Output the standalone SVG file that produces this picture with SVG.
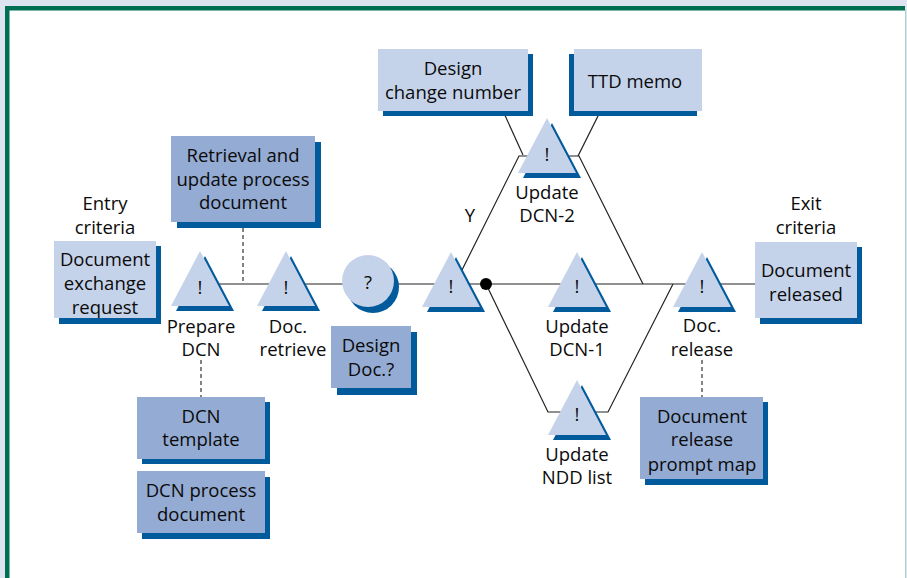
<svg xmlns="http://www.w3.org/2000/svg" xmlns:xlink="http://www.w3.org/1999/xlink" width="907" height="578" viewBox="0 0 907 578">
<style>
.lt{fill:#c5d3ea}
.dk{fill:#94abd3}
.sh{fill:#005a9c}
.ln{stroke:#222;stroke-width:1.2;fill:none}
.ds{stroke:#333;stroke-width:1.2;fill:none;stroke-dasharray:4,3}
text{font-family:"Open Sans","Noto Sans","Liberation Sans",sans-serif;font-size:18.5px;fill:#0a0a0a;text-anchor:middle;dominant-baseline:central}
</style>
<defs>
<path id="tri" d="M0,0 L29,55 L-29,55 Z"/>
</defs>
<rect x="0" y="0" width="907" height="578" fill="#dde3f0"/>
<rect x="7" y="8" width="898" height="570" fill="#ffffff"/>
<rect x="5" y="6" width="900" height="4.5" fill="#006e50"/>
<rect x="5" y="6" width="4.5" height="572" fill="#006e50"/>
<rect x="905" y="10" width="1" height="568" fill="#a8d5c8"/>

<g id="connectors">
<line class="ln" x1="200" y1="284" x2="756" y2="284"/>
<line class="ds" x1="243" y1="228" x2="243" y2="284"/>
<line class="ds" x1="201" y1="360" x2="201" y2="397"/>
<line class="ds" x1="702" y1="360" x2="702" y2="397"/>
<polyline class="ln" points="455,284 519,156 579,156 643,284"/>
<polyline class="ln" points="486,284 548,412 608,412 673,284"/>
<line class="ln" x1="503" y1="111" x2="523" y2="155"/>
<line class="ln" x1="598" y1="116" x2="578" y2="156"/>
<circle cx="486" cy="284" r="6" fill="#000"/>
</g>

<g id="entry-criteria">
<text x="105" y="202">Entry</text>
<text x="105" y="226">criteria</text>
</g>
<g id="doc-exchange-request">
<rect class="sh" x="59" y="246" width="102" height="78"/>
<rect class="lt" x="54" y="241" width="102" height="77"/>
<text x="105" y="258">Document</text>
<text x="105" y="282">exchange</text>
<text x="105" y="306">request</text>
</g>
<g id="retrieval-doc">
<rect class="sh" x="177" y="142" width="144" height="86"/>
<rect class="dk" x="171" y="136" width="144" height="86"/>
<text x="243" y="154">Retrieval and</text>
<text x="243" y="178">update process</text>
<text x="243" y="201">document</text>
</g>
<g id="prepare-dcn">
<use xlink:href="#tri" class="sh" x="205" y="256"/>
<use xlink:href="#tri" class="lt" x="200" y="251"/>
<text x="200" y="286">!</text>
<text x="201" y="325">Prepare</text>
<text x="201" y="348">DCN</text>
</g>
<g id="doc-retrieve">
<use xlink:href="#tri" class="sh" x="291" y="256"/>
<use xlink:href="#tri" class="lt" x="286" y="251"/>
<text x="286" y="286">!</text>
<text x="288" y="325">Doc.</text>
<text x="293" y="348">retrieve</text>
</g>
<g id="dcn-template">
<rect class="sh" x="142" y="402" width="128" height="62"/>
<rect class="dk" x="137" y="397" width="128" height="62"/>
<text x="201" y="415">DCN</text>
<text x="201" y="438">template</text>
</g>
<g id="dcn-process-doc">
<rect class="sh" x="142" y="477" width="128" height="62"/>
<rect class="dk" x="137" y="471" width="128" height="62"/>
<text x="201" y="489">DCN process</text>
<text x="201" y="513">document</text>
</g>
<g id="design-doc-decision">
<circle class="sh" cx="373" cy="287" r="26"/>
<circle class="lt" cx="368" cy="281" r="26"/>
<text x="368" y="281">?</text>
</g>
<g id="design-doc-box">
<rect class="sh" x="337" y="332" width="80" height="63"/>
<rect class="dk" x="331" y="326" width="80" height="62"/>
<text x="371" y="344">Design</text>
<text x="371" y="368">Doc.?</text>
</g>
<g id="junction">
<use xlink:href="#tri" class="sh" x="456" y="257"/>
<use xlink:href="#tri" class="lt" x="451" y="252"/>
<text x="451" y="285">!</text>
</g>
<g id="y-label">
<text x="470" y="214">Y</text>
</g>
<g id="design-change-number">
<rect class="sh" x="383" y="54" width="150" height="62"/>
<rect class="lt" x="378" y="49" width="150" height="62"/>
<text x="453" y="67">Design</text>
<text x="453" y="91">change number</text>
</g>
<g id="ttd-memo">
<rect class="sh" x="569" y="54" width="128" height="62"/>
<rect class="lt" x="574" y="49" width="128" height="62"/>
<text x="635" y="80">TTD memo</text>
</g>
<g id="update-dcn-2">
<use xlink:href="#tri" class="sh" x="552" y="123"/>
<use xlink:href="#tri" class="lt" x="547" y="118"/>
<text x="547" y="153">!</text>
<text x="547" y="191">Update</text>
<text x="547" y="214">DCN-2</text>
</g>
<g id="update-dcn-1">
<use xlink:href="#tri" class="sh" x="582" y="257"/>
<use xlink:href="#tri" class="lt" x="577" y="252"/>
<text x="577" y="285">!</text>
<text x="577" y="325">Update</text>
<text x="577" y="348">DCN-1</text>
</g>
<g id="update-ndd-list">
<use xlink:href="#tri" class="sh" x="582" y="385"/>
<use xlink:href="#tri" class="lt" x="577" y="380"/>
<text x="577" y="413">!</text>
<text x="577" y="453">Update</text>
<text x="577" y="476">NDD list</text>
</g>
<g id="doc-release">
<use xlink:href="#tri" class="sh" x="707" y="257"/>
<use xlink:href="#tri" class="lt" x="702" y="252"/>
<text x="702" y="285">!</text>
<text x="702" y="324">Doc.</text>
<text x="702" y="348">release</text>
</g>
<g id="doc-release-prompt-map">
<rect class="sh" x="645" y="402" width="123" height="83"/>
<rect class="dk" x="640" y="397" width="123" height="82"/>
<text x="702" y="415">Document</text>
<text x="702" y="438">release</text>
<text x="702" y="463">prompt map</text>
</g>
<g id="exit-criteria">
<text x="806" y="202">Exit</text>
<text x="806" y="226">criteria</text>
</g>
<g id="document-released">
<rect class="sh" x="760" y="247" width="102" height="77"/>
<rect class="lt" x="755" y="242" width="102" height="76"/>
<text x="806" y="269">Document</text>
<text x="806" y="293">released</text>
</g>
</svg>
